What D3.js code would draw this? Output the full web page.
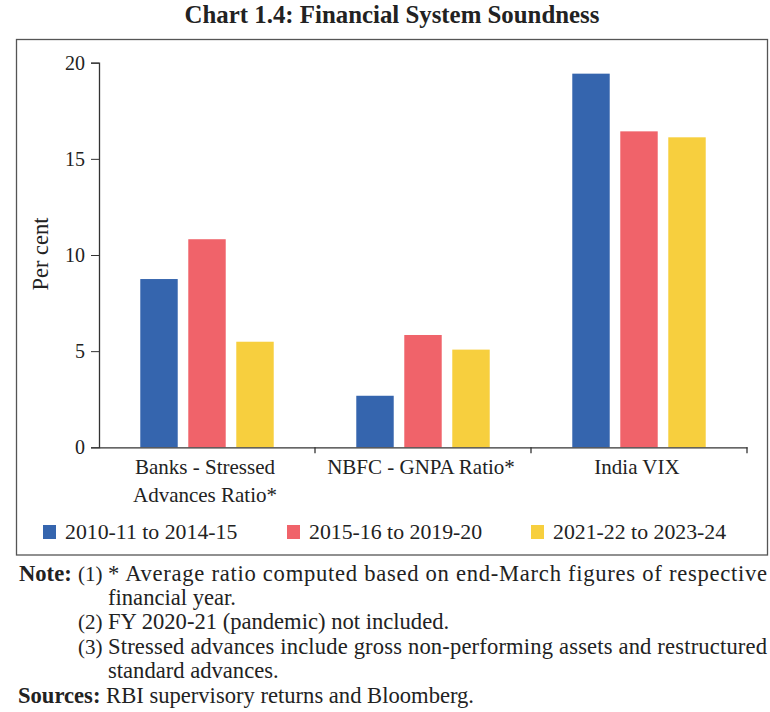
<!DOCTYPE html>
<html><head><meta charset="utf-8">
<script src="https://cdn.jsdelivr.net/npm/d3@7"></script>
<style>
body{margin:0;background:#fff;}
text{font-family:"Liberation Serif","DejaVu Serif",serif;fill:#222;}
</style></head>
<body><svg id="c" width="770" height="712"></svg>
<script>
const categories = [["Banks - Stressed","Advances Ratio*"],["NBFC - GNPA Ratio*"],["India VIX"]];
const seriesNames = ["2010-11 to 2014-15","2015-16 to 2019-20","2021-22 to 2023-24"];
const series1 = [8.75, 2.68, 19.43];
const series2 = [10.82, 5.84, 16.43];
const series3 = [5.49, 5.08, 16.12];
const colors = ["#3565AE","#F0636A","#F7CF3E"];
const yTicks = [0,5,10,15,20];
const title = "Chart 1.4: Financial System Soundness";
const notes = [
  {lab:"Note:", num:"(1)", text:"* Average ratio computed based on end-March figures of respective", justify:true},
  {lab:"", num:"", text:"financial year."},
  {lab:"", num:"(2)", text:"FY 2020-21 (pandemic) not included."},
  {lab:"", num:"(3)", text:"Stressed advances include gross non-performing assets and restructured", justify:true},
  {lab:"", num:"", text:"standard advances."}
];
const sources = ["Sources:", "RBI supervisory returns and Bloomberg."];

const svg = d3.select("#c");
const seriesVals = [series1, series2, series3];
const data = categories.map((c,i)=>({cat:i, vals:seriesVals.map((s,j)=>({k:j, v:s[i]}))}));

// scale a text's font-size so it spans a target width
function fit(sel, w){
  const node = sel.node();
  const fs = parseFloat(sel.style("font-size"));
  const len = node.getComputedTextLength();
  sel.style("font-size", (fs*w/len).toFixed(2)+"px");
  return sel;
}

const pL=99, pR=747, pT=62.7, pB=447.3;
const x0 = d3.scaleBand().domain(d3.range(categories.length)).range([pL,pR]).padding(0);
const x1 = d3.scaleBand().domain(d3.range(seriesNames.length)).range([0,x0.bandwidth()]).paddingInner(0.22).paddingOuter(0.86);
const y = d3.scaleLinear().domain([0,20]).range([pB,pT]);

// title
fit(svg.append("text").attr("x",392).attr("y",23).attr("text-anchor","middle")
  .style("font-weight","bold").style("font-size","20px").text(title), 415);

// frame
svg.append("rect").attr("x",16.5).attr("y",39.5).attr("width",751).attr("height",515.5)
  .attr("fill","none").attr("stroke","#555").attr("stroke-width",1.3);

// bars
svg.append("g").selectAll("g").data(data).join("g")
  .attr("transform",d=>`translate(${x0(d.cat)},0)`)
  .selectAll("rect").data(d=>d.vals).join("rect")
  .attr("x",d=>x1(d.k)).attr("width",x1.bandwidth())
  .attr("y",d=>y(d.v)).attr("height",d=>y(0)-y(d.v))
  .attr("fill",d=>colors[d.k]);

// y axis
const ya = svg.append("g").attr("transform",`translate(${pL},0)`)
  .call(d3.axisLeft(y).tickValues(yTicks).tickSize(8).tickPadding(6));
ya.select(".domain").attr("stroke","#333").attr("stroke-width",1.3);
ya.selectAll(".tick line").attr("stroke","#333");
ya.selectAll("text").style("font-family","'Liberation Serif',serif").style("font-size","20px").attr("fill","#222");

// x axis
const xa = svg.append("g").attr("transform",`translate(0,${pB})`)
  .call(d3.axisBottom(x0).tickValues([]).tickSizeOuter(0));
xa.select(".domain").attr("stroke","#333").attr("stroke-width",1.3);
x0.domain().forEach(i=>{
  const xb = x0(i)+x0.bandwidth();
  svg.append("line").attr("x1",xb).attr("x2",xb).attr("y1",pB).attr("y2",pB+6).attr("stroke","#333").attr("stroke-width",1.3);
});
// category labels
const catFont = 21;
categories.forEach((lines,i)=>{
  const cx = x0(i)+x0.bandwidth()/2 - 2;
  const t = svg.append("text").attr("x",cx).attr("y",474)
    .attr("text-anchor","middle").style("font-size",catFont+"px");
  lines.forEach((l,j)=>t.append("tspan").attr("x",cx).attr("dy",j?27.5:0).text(l));
});

// y label
svg.append("text").attr("transform","translate(48,254) rotate(-90)").attr("text-anchor","middle")
  .style("font-size","22.5px").text("Per cent");

// legend
const legX = [43, 287, 531];
seriesNames.forEach((n,i)=>{
  svg.append("rect").attr("x",legX[i]).attr("y",525).attr("width",13).attr("height",14).attr("fill",colors[i]);
  svg.append("text").attr("x",legX[i]+22).attr("y",539).style("font-size","21.8px").text(n);
});

// notes
const noteFont = 22.6;
const lineY = [581, 605, 629, 654, 678];
notes.forEach((n,i)=>{
  if(n.lab) svg.append("text").attr("x",19).attr("y",lineY[i]).style("font-weight","bold").style("font-size",noteFont+"px").text(n.lab);
  if(n.num) svg.append("text").attr("x",78).attr("y",lineY[i]).style("font-size","21px").text(n.num);
  const t = svg.append("text").attr("x",108).attr("y",lineY[i]).style("font-size",noteFont+"px").text(n.text);
  if(n.justify) t.attr("textLength",659).attr("lengthAdjust","spacing");
});
svg.append("text").attr("x",18).attr("y",703).style("font-size",noteFont+"px")
  .call(t=>{t.append("tspan").style("font-weight","bold").text(sources[0]);
           t.append("tspan").text(" "+sources[1]);});
</script>
</body></html>
